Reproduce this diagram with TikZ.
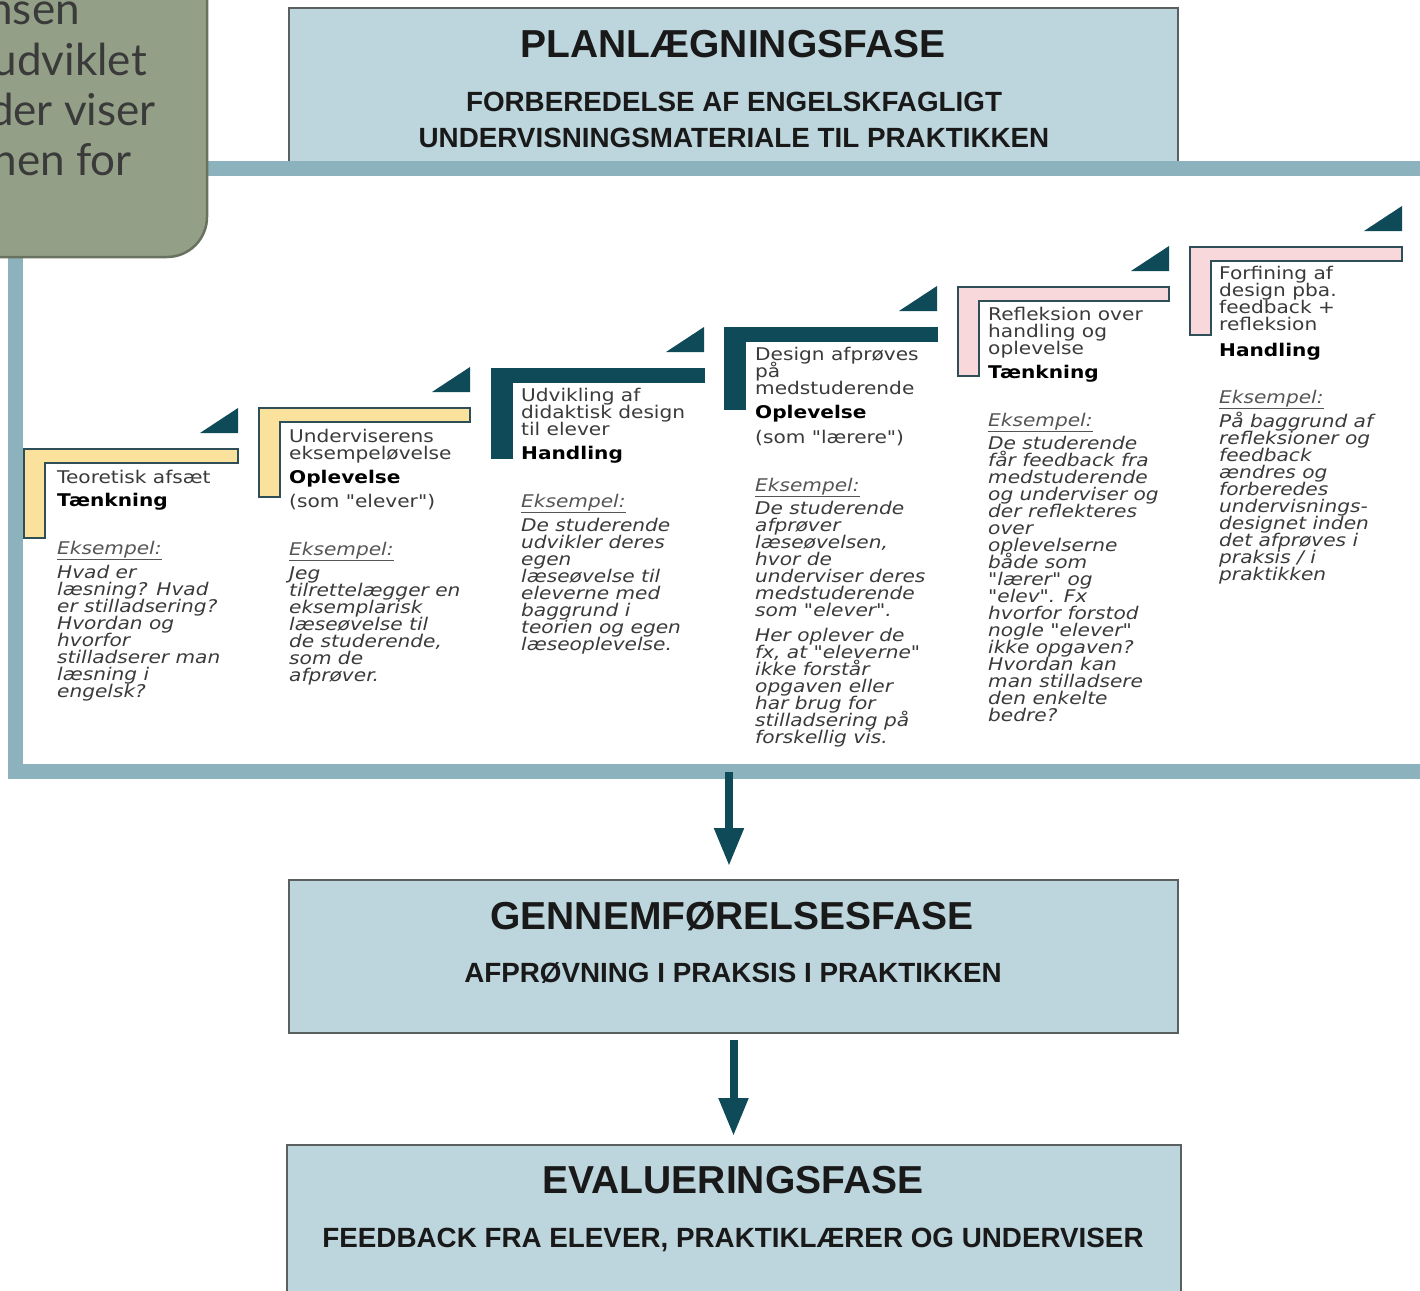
\documentclass[tikz,border=0pt]{standalone}
\usepackage{fontspec}
\usetikzlibrary{arrows.meta}
\setmainfont{Liberation Sans}
\newfontfamily\stepfont[FakeStretch=1.15]{DejaVu Sans}
\newfontfamily\notefont{Lato}
\definecolor{frameblue}{HTML}{8CB3BD}
\definecolor{boxfill}{HTML}{BDD6DD}
\definecolor{boxline}{HTML}{5A5F60}
\definecolor{darkteal}{HTML}{0F4A58}
\definecolor{paleyellow}{HTML}{FBE29C}
\definecolor{palepink}{HTML}{F8D8DA}
\definecolor{sage}{HTML}{939F87}
\definecolor{sageline}{HTML}{69725F}
\definecolor{txtgray}{HTML}{3A3A3A}
\definecolor{lblgray}{HTML}{555555}
\definecolor{Ldark}{HTML}{2E4F57}
\newcommand\textlines[5]{\foreach \t [count=\i from 0] in {#5} {\node[#4] (#1\i) at (#2,#3+17*\i) {\t};}}
\newcommand\stepshape[5]{%
  \draw[#5] (#1,#2) -- (#3,#2) -- (#3,#2+14) -- (#1+21,#2+14) -- (#1+21,#4) -- (#1,#4) -- cycle;
  \fill[darkteal] (#3-38,#2-16) -- (#3,#2-41) -- (#3,#2-16) -- cycle;}
\begin{document}
\begin{tikzpicture}[x=1pt,y=-1pt,
  phasebox/.style={draw=boxline, fill=boxfill, line width=2pt, inner sep=0pt, outer sep=0pt, anchor=north west},
  title/.style={font=\fontsize{39}{41}\selectfont\bfseries, text=black!90, anchor=base, inner sep=0pt},
  subtitle/.style={font=\fontsize{27.8}{29}\selectfont\bfseries, text=black!90, anchor=base, inner sep=0pt},
  stephead/.style={font=\stepfont\fontsize{17.5}{17}\selectfont, text=txtgray, anchor=base west, inner sep=0pt},
  stepbold/.style={font=\stepfont\fontsize{17.5}{17}\selectfont\bfseries, text=black, anchor=base west, inner sep=0pt},
  stepex/.style={font=\stepfont\fontsize{17.5}{17}\selectfont\itshape, text=txtgray, anchor=base west, inner sep=0pt},
  steplbl/.style={font=\stepfont\fontsize{17.5}{17}\selectfont\itshape, text=lblgray, anchor=base west, inner sep=0pt},
  yellowL/.style={fill=paleyellow, draw=Ldark, line width=1.5pt},
  darkL/.style={fill=darkteal, draw=darkteal, line width=1pt},
  pinkL/.style={fill=palepink, draw=Ldark, line width=1.5pt},
  flowarrow/.style={draw=darkteal, line width=8pt, -{Triangle[width=28pt,length=38pt]}},
  notebox/.style={draw=sageline, fill=sage, line width=2.5pt, rounded corners=40pt, minimum width=320pt, minimum height=330pt, anchor=south east, outer sep=0pt},
  notetext/.style={font=\notefont\fontsize{44}{50}\selectfont, text=txtgray, anchor=base east, inner sep=0pt}
]
\useasboundingbox (0,0) rectangle (1420,1290);
\clip (0,0) rectangle (1420,1290);
\fill[white] (0,0) rectangle (1420,1290);

% planning phase box
\node[phasebox, minimum width=889pt, minimum height=154pt] (plan) at (289,8) {};
\node[title] (plantitle) at (733,57) {PLANLÆGNINGSFASE};
\node[subtitle] (plansub1) at (734,111) {FORBEREDELSE AF ENGELSKFAGLIGT};
\node[subtitle] (plansub2) at (734,147) {UNDERVISNINGSMATERIALE TIL PRAKTIKKEN};

% frame
\node[draw=frameblue, line width=15pt, inner sep=0pt, outer sep=0pt, minimum width=1440pt, minimum height=603.5pt, anchor=north west] (frame) at (15.5,168) {};

% note box
\node[notebox] (note) at (207,257) {};
\node[notetext] (n1) at (80,25) {nsen};
\node[notetext] (n2) at (147,75) {udviklet};
\node[notetext] (n3) at (156,125) {der viser};
\node[notetext] (n4) at (132,175) {nen for};

% step shapes
\stepshape{24}{449}{238}{538}{yellowL}
\stepshape{259}{408}{470}{497}{yellowL}
\stepshape{491}{368}{704}{458}{darkL}
\stepshape{724}{327}{937}{409}{darkL}
\stepshape{958}{287}{1169}{376}{pinkL}
\stepshape{1190}{247}{1402}{335}{pinkL}

% step 1
\textlines{s1h}{57}{483}{stephead}{Teoretisk afsæt}
\node[stepbold] (s1b) at (57,506) {Tænkning};
\node[steplbl] (s1k) at (57,554) {\underline{Eksempel:}};
\textlines{s1e}{57}{578}{stepex}{Hvad er, læsning? Hvad, er stilladsering?, Hvordan og, hvorfor, stilladserer man, læsning i, engelsk?}

% step 2
\textlines{s2h}{289}{442}{stephead}{Underviserens, eksempeløvelse}
\node[stepbold] (s2b) at (289,483) {Oplevelse};
\node[stephead] (s2c) at (289,507) {(som "elever")};
\node[steplbl] (s2k) at (289,555) {\underline{Eksempel:}};
\textlines{s2e}{289}{579}{stepex}{Jeg, tilrettelægger en, eksemplarisk, læseøvelse til, {de studerende,}, som de, afprøver.}

% step 3
\textlines{s3h}{521}{401}{stephead}{Udvikling af, didaktisk design, til elever}
\node[stepbold] (s3b) at (521,459) {Handling};
\node[steplbl] (s3k) at (521,507) {\underline{Eksempel:}};
\textlines{s3e}{521}{531}{stepex}{De studerende, udvikler deres, egen, læseøvelse til, eleverne med, baggrund i, teorien og egen, læseoplevelse.}

% step 4
\textlines{s4h}{755}{360}{stephead}{Design afprøves, på, medstuderende}
\node[stepbold] (s4b) at (755,418) {Oplevelse};
\node[stephead] (s4c) at (755,443) {(som "lærere")};
\node[steplbl] (s4k) at (755,491) {\underline{Eksempel:}};
\textlines{s4e}{755}{514}{stepex}{De studerende, afprøver, {læseøvelsen,}, hvor de, underviser deres, medstuderende, som "elever".}
\textlines{s4f}{755}{641}{stepex}{Her oplever de, {fx, at "eleverne"}, ikke forstår, opgaven eller, har brug for, stilladsering på, forskellig vis.}

% step 5
\textlines{s5h}{988}{320}{stephead}{Refleksion over, handling og, oplevelse}
\node[stepbold] (s5b) at (988,378) {Tænkning};
\node[steplbl] (s5k) at (988,426) {\underline{Eksempel:}};
\textlines{s5e}{988}{449}{stepex}{De studerende, får feedback fra, medstuderende, og underviser og, der reflekteres, over, oplevelserne, både som, "lærer" og, {"elev". Fx}, hvorfor forstod, nogle "elever", ikke opgaven?, Hvordan kan, man stilladsere, den enkelte, bedre?}

% step 6
\textlines{s6h}{1219}{279}{stephead}{Forfining af, design pba., feedback +, refleksion}
\node[stepbold] (s6b) at (1219,356) {Handling};
\node[steplbl] (s6k) at (1219,403) {\underline{Eksempel:}};
\textlines{s6e}{1219}{427}{stepex}{På baggrund af, refleksioner og, feedback, ændres og, forberedes, undervisnings-, designet inden, det afprøves i, praksis / i, praktikken}

% implementation and evaluation boxes
\node[phasebox, minimum width=889pt, minimum height=153pt] (gen) at (289,880) {};
\node[title] (gentitle) at (732,929) {GENNEMFØRELSESFASE};
\node[subtitle] (gensub) at (733,982) {AFPRØVNING I PRAKSIS I PRAKTIKKEN};
\node[phasebox, minimum width=894pt, minimum height=200pt] (eval) at (287,1145) {};
\node[title] (evaltitle) at (733,1193) {EVALUERINGSFASE};
\node[subtitle] (evalsub) at (733,1247) {FEEDBACK FRA ELEVER, PRAKTIKLÆRER OG UNDERVISER};

% arrows
\coordinate (fb) at (729,772);
\draw[flowarrow, shorten >=14pt] (fb) -- (fb |- gen.north);
\draw[flowarrow, shorten <=7pt, shorten >=9pt] (gen.south) -- (gen.south |- eval.north);
\end{tikzpicture}
\end{document}
